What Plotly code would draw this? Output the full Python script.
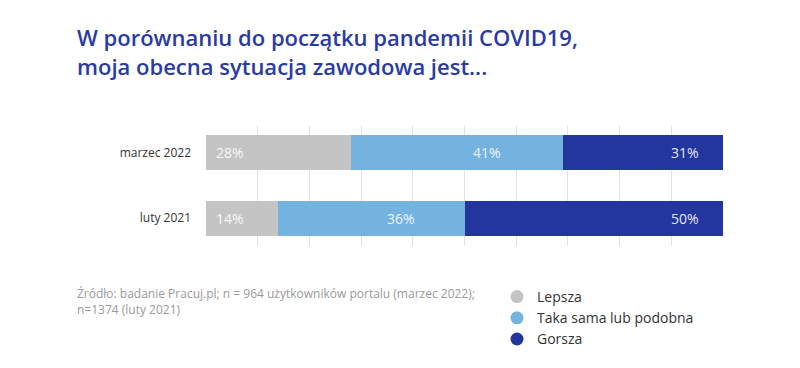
import plotly.graph_objects as go

categories = ["marzec 2022", "luty 2021"]
series_names = ["Lepsza", "Taka sama lub podobna", "Gorsza"]
lepsza = [28, 14]
taka_sama = [41, 36]
gorsza = [31, 50]
colors = ["#c4c4c4", "#74b2df", "#2336a0"]

title_text = "W porównaniu do początku pandemii COVID19,<br>moja obecna sytuacja zawodowa jest..."
source_text = "Źródło: badanie Pracuj.pl; n = 964 użytkowników portalu (marzec 2022);<br>n=1374 (luty 2021)"

FONT = "Open Sans"
series = [lepsza, taka_sama, gorsza]

W, H = 792, 360  # page body adds an 8px offset
L, R, T, B = 198, 77, 118, 122
PW, PH = W - L - R, H - T - B

fig = go.Figure()
for name, vals, col in zip(series_names, series, colors):
    fig.add_trace(go.Bar(
        y=categories, x=vals, name=name, orientation="h",
        marker=dict(color=col, line=dict(width=0)),
        width=0.54, showlegend=False, hoverinfo="x+name",
    ))
    fig.add_trace(go.Scatter(
        x=[None], y=[None], mode="markers", name=name,
        marker=dict(color=col, size=13, symbol="circle"),
        showlegend=True,
    ))

annotations = []
for i, cat in enumerate(categories):
    starts = [0, lepsza[i], lepsza[i] + taka_sama[i]]
    for j, vals in enumerate(series):
        v = vals[i]
        s = starts[j]
        if j == 0:
            x, anchor, shift = s, "left", 8
        elif j == 1:
            x, anchor, shift = s + v / 2, "center", 30
        else:
            x, anchor, shift = s + v, "right", -22
        annotations.append(dict(
            x=x, y=cat, xref="x", yref="y", text=f"{v}%", showarrow=False,
            xanchor=anchor, xshift=shift,
            font=dict(family=FONT, size=14, color="rgba(255,255,255,0.9)"),
        ))

annotations.append(dict(
    x=(67 - L) / PW, y=(H - B - 275) / PH, xref="paper", yref="paper",
    text=source_text, showarrow=False, xanchor="left", yanchor="top", align="left",
    font=dict(family=FONT, size=12, color="#9a9a9a"),
))

fig.update_layout(
    width=W, height=H,
    margin=dict(l=L, r=R, t=T, b=B, autoexpand=False),
    paper_bgcolor="white", plot_bgcolor="white",
    barmode="stack",
    title=dict(
        text=title_text, x=69 / W, xanchor="left", xref="container",
        y=1 - 38 / H, yanchor="top", yref="container",
        font=dict(family=FONT, size=22, color="#2a3aa6", weight=600),
    ),
    xaxis=dict(range=[0, 100], dtick=10, showticklabels=False, showgrid=True,
               gridcolor="#e2e2e2", gridwidth=1, zeroline=False, showline=False,
               fixedrange=True, automargin=False),
    yaxis=dict(type="category", range=[1.423, -0.408], showgrid=False,
               zeroline=False, showline=False, ticks="", ticklabelstandoff=14,
               automargin=False,
               tickfont=dict(family=FONT, size=12, color="#333333")),
    legend=dict(x=(489 - L) / PW, y=(H - B - 273) / PH, xanchor="left", yanchor="top",
                traceorder="normal",
                font=dict(family=FONT, size=14, color="#333333"),
                bgcolor="rgba(0,0,0,0)", tracegroupgap=0, itemwidth=30),
    annotations=annotations,
    showlegend=True,
)

fig.write_html("out.html")
